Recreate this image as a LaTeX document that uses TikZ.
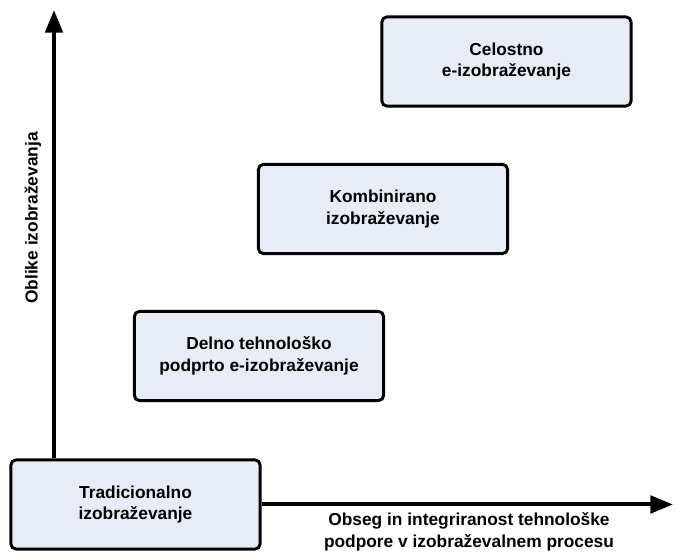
\documentclass[tikz,border=0pt]{standalone}
\usepackage{fontspec}
\setmainfont{Liberation Sans}
\usetikzlibrary{positioning,arrows.meta}
\definecolor{boxfill}{RGB}{231,236,247}
\tikzset{
  stage/.style={draw, line width=2.2pt, rounded corners=4pt, fill=boxfill,
    minimum width=187pt, minimum height=67pt, align=center,
    font=\fontsize{13}{16.3}\selectfont\bfseries},
  axis/.style={line width=3pt, -{Triangle[width=13pt,length=17pt]}},
  axislabel/.style={align=center, font=\fontsize{13}{16.3}\selectfont\bfseries}
}
\begin{document}
\begin{tikzpicture}[x=0.75pt, y=0.75pt]
   \useasboundingbox (0,0) rectangle (676,552);

   \node (trad)  [stage] at (135.5,47.5)  {Tradicionalno\\izobraževanje};
   \node (delno) [stage] at (259,196)     {Delno tehnološko\\podprto e-izobraževanje};
   \node (komb)  [stage] at (383,343)     {Kombinirano\\izobraževanje};
   \node (cel)   [stage] at (506.5,490.5) {Celostno\\e-izobraževanje};

   \coordinate (ytip) at (54,542);
   \coordinate (xtip) at (673,47.5);

   \draw[axis] (trad.north -| ytip) -- (ytip);
   \draw[axis] (trad.east) -- (xtip);

   \node (xlab) [axislabel] at (469,20)
     {Obseg in integriranost tehnološke\\podpore v izobraževalnem procesu};
   \node (ylab) [axislabel, rotate=90] at (33,334) {Oblike izobraževanja};
\end{tikzpicture}
\end{document}
